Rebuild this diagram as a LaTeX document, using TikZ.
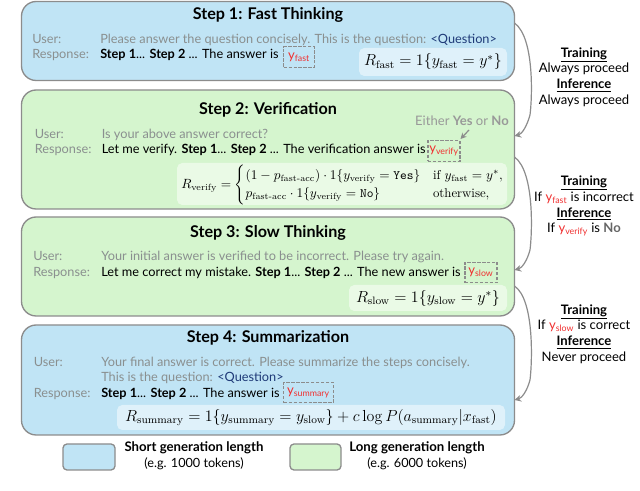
\documentclass[tikz,border=0pt]{standalone}
\usepackage{amsmath}
\usepackage[no-math]{fontspec}
\setmainfont{Lato}
\newfontfamily\lmr{Latin Modern Roman}
\usetikzlibrary{arrows.meta}
\definecolor{bluebg}{HTML}{C0E4F5}
\definecolor{greenbg}{HTML}{D5F5CE}
\definecolor{edgeg}{HTML}{8C8C8C}
\definecolor{usergray}{HTML}{8A8F8F}
\definecolor{qblue}{HTML}{1F3A78}
\definecolor{redy}{HTML}{F03030}
\newcommand{\yv}[1]{\textcolor{redy}{y\textsubscript{\fontsize{6.6}{6}\selectfont #1}}}
\tikzset{
 card/.style={rounded corners=11pt,draw=edgeg,line width=1pt},
 title/.style={font=\fontsize{12.1}{13}\selectfont\bfseries,text=black,inner sep=0pt},
 lab/.style={font=\fontsize{9.55}{10}\selectfont,text=usergray,anchor=west,inner sep=0pt,text height=7pt,text depth=2pt},
 body/.style={font=\fontsize{9.55}{10}\selectfont,text=black,anchor=west,inner sep=0pt,text height=7pt,text depth=2pt},
 side/.style={font=\fontsize{9.8}{10}\selectfont,text=black,inner sep=0pt,text height=7pt,text depth=2pt},
 legt/.style={font=\fontsize{9.5}{10}\selectfont,text=black,inner sep=0pt},
 legb/.style={font=\fontsize{9.9}{10}\selectfont\bfseries,text=black,inner sep=0pt},
 dash box/.style={draw=edgeg,line width=0.9pt,dash pattern=on 2.5pt off 1.2pt,inner sep=0pt},
 yv/.style={font=\fontsize{9.8}{10}\selectfont,inner sep=0pt},
 formula/.style={rounded corners=4pt,fill=white,fill opacity=0.5},
 math/.style={text=black,inner sep=0pt},
 flow/.style={draw=edgeg,line width=0.9pt,-{Stealth[length=5pt,width=5pt]}},
 legend/.style={rounded corners=3pt,draw=edgeg,line width=1pt},
}
\begin{document}
\begin{tikzpicture}[x=0.75pt,y=-0.75pt]
\useasboundingbox (0,0) rectangle (640,491);
\fill[white] (0,0) rectangle (640,491);
% cards
\path[card,fill=bluebg] (21.5,1.5) rectangle (514.5,80.5);
\path[card,fill=greenbg] (21.5,90) rectangle (514.5,209);
\path[card,fill=greenbg] (21.5,217) rectangle (514.5,316);
\path[card,fill=bluebg] (21.5,325) rectangle (514.5,435);
\coordinate (c1r) at (514.5,23);
\coordinate (c2ra) at (514.5,136);
\coordinate (c2rb) at (514.5,157);
\coordinate (c3ra) at (514.5,270);
\coordinate (c3rb) at (514.5,286);
\coordinate (c4r) at (514.5,400);
% Step 1
\node[title] (t1) at (268,15) {Step 1: Fast Thinking};
\node[lab] (u1) at (32,40) {User:};
\node[lab] (r1) at (32,55) {Response:};
\node[lab] (u1t) at (100,40) {Please answer the question concisely. This is the question: \textcolor{qblue}{<Question>}};
\node[body] (r1t) at (100,55) {\textbf{Step 1}... \textbf{Step 2} ... The answer is};
\node[dash box,minimum width=23pt,minimum height=15.5pt] (b1) at (299,57) {};
\node[yv] (y1) at (b1) {\yv{fast}};
\fill[formula] (359,48) rectangle (507,76);
\node[math] (f1) at (433,62) {\lmr\fontsize{11.5}{13}\selectfont $R_{\text{fast}} = 1\{y_{\text{fast}} = y^{*}\}$};
% Step 2
\node[title] (t2) at (268,110) {Step 2: Verification};
\node[lab] (u2) at (34.5,135) {User:};
\node[lab] (r2) at (34.5,150.5) {Response:};
\node[lab] (u2t) at (101.5,135) {Is your above answer correct?};
\node[body] (r2t) at (101.5,150.5) {Let me verify. \textbf{Step 1}... \textbf{Step 2} ... The verification answer is};
\node[dash box,minimum width=24pt,minimum height=15.5pt] (b2) at (444,151) {};
\node[yv] (y2) at (b2) {\yv{verify}};
\node[font=\fontsize{9.8}{10}\selectfont,text=black!40,inner sep=0pt] (ei) at (462,120.5) {Either \textbf{Yes} or \textbf{No}};
\coordinate (eis) at (469,130);
\coordinate (eie) at (460.5,139);
\draw[draw=edgeg,line width=0.9pt,-{Stealth[length=4.5pt,width=4.5pt]}] (eis) -- (eie);
\fill[formula] (177,163) rectangle (507,205);
\node[math,anchor=west] (f2) at (181,185) {\lmr\fontsize{9.6}{11.5}\selectfont $R_{\text{verify}} = \begin{cases}(1-p_{\text{fast-acc}})\cdot 1\{y_{\text{verify}}=\texttt{Yes}\} & \text{if } y_{\text{fast}}=y^{*},\\ p_{\text{fast-acc}}\cdot 1\{y_{\text{verify}}=\texttt{No}\} & \text{otherwise},\end{cases}$};
% Step 3
\node[title] (t3) at (268,233) {Step 3: Slow Thinking};
\node[lab] (u3) at (33,257.5) {User:};
\node[lab] (r3) at (33,273.5) {Response:};
\node[lab] (u3t) at (101,257.5) {Your initial answer is verified to be incorrect. Please try again.};
\node[body] (r3t) at (101,273.5) {Let me correct my mistake. \textbf{Step 1}... \textbf{Step 2} ... The new answer is};
\node[dash box,minimum width=24pt,minimum height=15.5pt] (b3) at (481,272.5) {};
\node[yv] (y3) at (b3) {\yv{slow}};
\fill[formula] (349,285) rectangle (507,311);
\node[math] (f3) at (428,298.5) {\lmr\fontsize{11.5}{13}\selectfont $R_{\text{slow}} = 1\{y_{\text{slow}} = y^{*}\}$};
% Step 4
\node[title] (t4) at (268,338) {Step 4: Summarization};
\node[lab] (u4) at (33.5,363) {User:};
\node[lab] (r4) at (33.5,394.5) {Response:};
\node[lab] (u4t) at (101,363) {Your final answer is correct. Please summarize the steps concisely.};
\node[lab] (u4q) at (101,378.5) {This is the question: \textcolor{qblue}{<Question>}};
\node[body] (r4t) at (101,394.5) {\textbf{Step 1}... \textbf{Step 2} ... The answer is};
\node[dash box,minimum width=37pt,minimum height=15.5pt] (b4) at (308.5,392.5) {};
\node[yv] (y4) at (b4) {\yv{summary}};
\fill[formula] (117,405) rectangle (505,430);
\node[math] (f4) at (311,417.5) {\lmr\fontsize{11.5}{13}\selectfont $R_{\text{summary}} = 1\{y_{\text{summary}} = y_{\text{slow}}\} + c\log P(a_{\text{summary}}|x_{\text{fast}})$};
% connectors
\draw[flow] (c1r) .. controls (535,38) and (532,100) .. (530,115) .. controls (527,126) and (522,134) .. (c2ra);
\draw[flow] (c2rb) .. controls (535,172) and (532,235) .. (530,250) .. controls (527,261) and (522,268) .. (c3ra);
\draw[flow] (c3rb) .. controls (535,300) and (532,365) .. (530,380) .. controls (527,391) and (522,398) .. (c4r);
% side labels
\node[side] (s1a) at (584,54) {\textbf{\underline{Training}}};
\node[side] (s1b) at (584,69.5) {Always proceed};
\node[side] (s1c) at (584,85.5) {\textbf{\underline{Inference}}};
\node[side] (s1d) at (584,101) {Always proceed};
\node[side] (s2a) at (584,182) {\textbf{\underline{Training}}};
\node[side] (s2b) at (584,198) {If \yv{fast} is incorrect};
\node[side] (s2c) at (584,214) {\textbf{\underline{Inference}}};
\node[side] (s2d) at (584,229) {If \yv{verify} is \textbf{\textcolor{black!60}{No}}};
\node[side] (s3a) at (584,311) {\textbf{\underline{Training}}};
\node[side] (s3b) at (584,326.5) {If \yv{slow} is correct};
\node[side] (s3c) at (584,342.5) {\textbf{\underline{Inference}}};
\node[side] (s3d) at (584,358) {Never proceed};
% legend
\path[legend,fill=bluebg] (63,444) rectangle (115,470);
\path[legend,fill=greenbg] (290,444) rectangle (341,470);
\node[legb] (l1a) at (194,448) {Short generation length};
\node[legt] (l1b) at (194,463.5) {(e.g. 1000 tokens)};
\node[legb] (l2a) at (417,448) {Long generation length};
\node[legt] (l2b) at (417,463.5) {(e.g. 6000 tokens)};
\end{tikzpicture}
\end{document}
